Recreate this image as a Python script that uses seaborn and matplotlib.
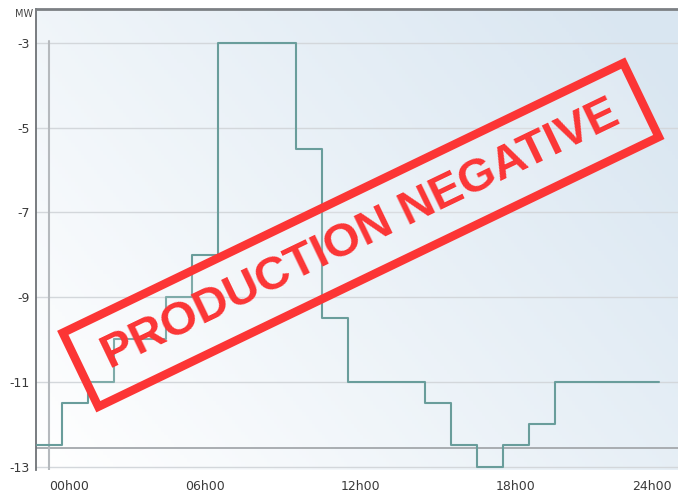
import numpy as np
import pandas as pd
import matplotlib
matplotlib.use("Agg")
import matplotlib.pyplot as plt
import matplotlib.patches as mpatches
from matplotlib.transforms import Affine2D
import seaborn as sns

# ---- data ----
hours = list(range(24))
power_mw = [-12.5, -11.5, -11, -10, -10, -9, -8, -3, -3, -3, -5.5, -9.5,
            -11, -11, -11, -11.5, -12.5, -13, -12.5, -12, -11, -11, -11, -11]
y_ticks = [-3, -5, -7, -9, -11, -13]
x_ticks = [0, 6, 12, 18, 24]
x_tick_labels = ["00h00", "06h00", "12h00", "18h00", "24h00"]
unit_label = "MW"
stamp_text = "PRODUCTION NEGATIVE"

sns.set_theme(style="white")
plt.rcParams['font.family'] = ['DejaVu Sans']

W, H = 678, 494
fig = plt.figure(figsize=(W / 100, H / 100), dpi=100)
fig.patch.set_facecolor("white")
ax = fig.add_axes([36 / W, 1 - 470 / H, 1 - 36 / W, (470 - 9.3) / H])

x0, x1 = -0.52, 24.25
y0, y1 = -13.08, -2.21
ax.set_xlim(x0, x1)
ax.set_ylim(y0, y1)

# gradient background
nx, ny = 200, 120
xn = np.linspace(0, 1, nx)[None, :]
yn = np.linspace(0, 1, ny)[:, None]
t = np.clip(0.65 * xn + 0.4 * yn, 0, 1) ** 1.0
white = np.array([1.0, 1.0, 1.0])
blue = np.array([0xd9, 0xe6, 0xf1]) / 255
img = white[None, None, :] * (1 - t[..., None]) + blue[None, None, :] * t[..., None]
ax.imshow(img, extent=[x0, x1, y0, y1], origin="lower", aspect="auto", zorder=0)

# grid lines
for yv in y_ticks:
    ax.axhline(yv, color="#d3d7db", lw=1.0, zorder=1)
ax.axhline(-12.55, color="#a9adb1", lw=1.4, zorder=1)
ax.plot([0, 0], [-2.95, y0], color="#b5b9bd", lw=1.5, zorder=1)

# step line (edges at half hours)
edges = [h - 0.5 for h in hours] + [hours[-1] + 0.5]
vals = power_mw + [power_mw[-1]]
df = pd.DataFrame({"hour": edges, "mw": vals})
sns.lineplot(data=df, x="hour", y="mw", drawstyle="steps-post", color="#699d9b",
             lw=1.5, ax=ax, zorder=3, estimator=None)

ax.set_xlabel("")
ax.set_ylabel("")
ax.set_yticks(y_ticks)
ax.set_yticklabels([str(v) for v in y_ticks])
ax.set_xticks(x_ticks)
ax.set_xticklabels(x_tick_labels)
lbls = ax.get_xticklabels()
lbls[0].set_ha("left")
lbls[-1].set_ha("right")
ax.tick_params(axis="y", length=0, pad=4.5, labelsize=9, labelcolor="#3a3a3a")
ax.tick_params(axis="x", length=0, pad=7, labelsize=9, labelcolor="#3a3a3a")

for s in ["right", "bottom"]:
    ax.spines[s].set_visible(False)
ax.spines["left"].set_color("#6e7276")
ax.spines["left"].set_linewidth(1.3)
ax.spines["top"].set_color("#7c8084")
ax.spines["top"].set_linewidth(2.0)

fig.text(33 / W, 1 - 14 / H, unit_label, ha="right", va="center", fontsize=7,
         color="#444444")

# stamp
cx, cy = 360.8, H - 234.9
ang = 25.7
red = "#fc3535"
tr = Affine2D().rotate_deg(ang).translate(cx, cy)
rw, rh = 622, 82
rect = mpatches.Rectangle((-rw / 2, -rh / 2), rw, rh, fill=True,
                          facecolor=(1, 1, 1, 0.15), edgecolor=red,
                          linewidth=8.5 * 72 / 100, transform=tr, zorder=10,
                          joinstyle="miter")
fig.add_artist(rect)
fig.text(cx / W, cy / H, stamp_text, rotation=ang, rotation_mode="anchor",
         ha="center", va="center", color=red, fontsize=34, fontweight="bold",
         family=["Liberation Sans", "DejaVu Sans"], zorder=11)

fig.savefig("out.png", dpi=100)
